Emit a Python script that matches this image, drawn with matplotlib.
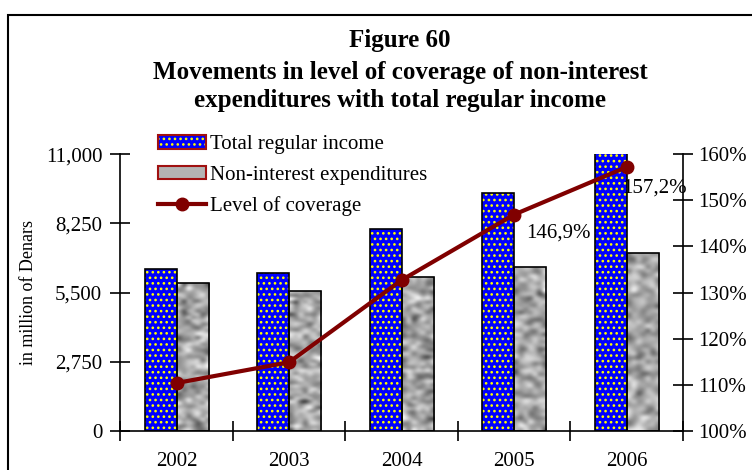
import numpy as np
import matplotlib
matplotlib.use("Agg")
import matplotlib.pyplot as plt
from matplotlib.patches import Patch, Rectangle
from matplotlib.lines import Line2D
from matplotlib.legend_handler import HandlerTuple
from matplotlib.ticker import FuncFormatter

plt.rcParams['font.family'] = ['Liberation Serif', 'DejaVu Serif']

years = ['2002', '2003', '2004', '2005', '2006']
total_income = [6430, 6280, 8020, 9450, 11030]
non_interest = [5880, 5560, 6120, 6510, 7070]
coverage = [110.4, 114.9, 132.7, 146.9, 157.2]
shown_labels = {3: '146,9%', 4: '157,2%'}

blue = '#0000ff'
dots = '#ffff00'
red = '#800000'

fig = plt.figure(figsize=(7.52, 4.70), dpi=100)
ax = fig.add_axes([0.16, 0.083, 0.748, 0.589])
ax2 = ax.twinx()

x = np.arange(len(years))
w = 0.285

# blue dotted bars
plt.rcParams['hatch.linewidth'] = 1.1
ax.bar(x - w / 2, total_income, w, color=blue, edgecolor=dots, hatch='...', lw=0, zorder=2)
ax.bar(x - w / 2, total_income, w, fill=False, edgecolor='black', lw=1.2, zorder=3)

# grey marbled bars
rng = np.random.default_rng(3)
gbars = ax.bar(x + w / 2, non_interest, w, color='#b4b4b4', edgecolor='black', lw=1.2, zorder=3)
for b in gbars:
    b.set_facecolor('none')
    tex = rng.normal(0, 1, (45, 7))
    im = ax.imshow(tex, cmap='gray', vmin=-3.6, vmax=2.0, interpolation='bicubic',
                   extent=(b.get_x(), b.get_x() + b.get_width(), 0, b.get_height()),
                   aspect='auto', zorder=2)
    im.set_clip_path(b)

ax.set_xlim(-0.5, 4.5)
ax.set_ylim(0, 11000)
ax.set_yticks([0, 2750, 5500, 8250, 11000])
ax.yaxis.set_major_formatter(FuncFormatter(lambda v, p: f'{v:,.0f}'))
ax.set_xticks(np.arange(-0.5, 5, 1))
ax.set_xticklabels([])
ax.set_xticks(x, minor=True)
ax.set_xticklabels(years, minor=True)
ax.tick_params(axis='x', which='major', direction='inout', length=14, width=1.2)
ax.tick_params(axis='x', which='minor', length=0, pad=15, labelsize=15)
ax.tick_params(axis='y', direction='inout', length=14, width=1.2, labelsize=15, pad=6)
ax.set_ylabel('in million of Denars', fontsize=13, labelpad=6)

ax2.set_ylim(100, 160)
ax2.set_yticks(range(100, 161, 10))
ax2.yaxis.set_major_formatter(FuncFormatter(lambda v, p: f'{v:.0f}%'))
ax2.tick_params(axis='y', direction='inout', length=14, width=1.2, labelsize=15, pad=4)

for a in (ax, ax2):
    a.spines['top'].set_visible(False)
    for s in ('left', 'right', 'bottom'):
        a.spines[s].set_linewidth(1.2)
ax.spines['right'].set_visible(False)
ax2.spines['left'].set_visible(False)
ax2.spines['bottom'].set_visible(False)

ax2.plot(x, coverage, color=red, lw=3, marker='o', ms=9, zorder=5)
offsets = {3: (9, -13), 4: (-3, -15)}
for i, lab in shown_labels.items():
    ax2.annotate(lab, (x[i], coverage[i]), xytext=offsets[i], textcoords='offset points',
                 ha='left', va='center', fontsize=15)

# legend
h1 = (Patch(facecolor=blue, edgecolor=dots, hatch='...', lw=0),
      Patch(fill=False, edgecolor='#a01010', lw=1.5))
h2 = Patch(facecolor='#b4b4b4', edgecolor='#a01010', lw=1.5)
h3 = Line2D([], [], color=red, lw=3, marker='o', ms=9)
fig.legend([h1, h2, h3],
           ['Total regular income', 'Non-interest expenditures', 'Level of coverage'],
           handler_map={tuple: HandlerTuple(ndivide=1)},
           loc='upper left', bbox_to_anchor=(148 / 752, 1 - 125 / 470),
           frameon=False, fontsize=15, handlelength=2.3, handleheight=0.6,
           handletextpad=0.2, labelspacing=0.55, borderpad=0)

# titles
fig.text(0.532, 1 - 40 / 470, 'Figure 60', ha='center', va='center', fontsize=18, fontweight='bold')
fig.text(0.532, 1 - 72 / 470, 'Movements in level of coverage of non-interest',
         ha='center', va='center', fontsize=18, fontweight='bold')
fig.text(0.532, 1 - 101 / 470, 'expenditures with total regular income',
         ha='center', va='center', fontsize=18, fontweight='bold')

# outer frame
fig.patches.append(Rectangle((8 / 752, -0.1), 1.2, 1.1 - 15 / 470, transform=fig.transFigure,
                             fill=False, edgecolor='black', lw=1.5))

fig.savefig('out.png', dpi=100)
